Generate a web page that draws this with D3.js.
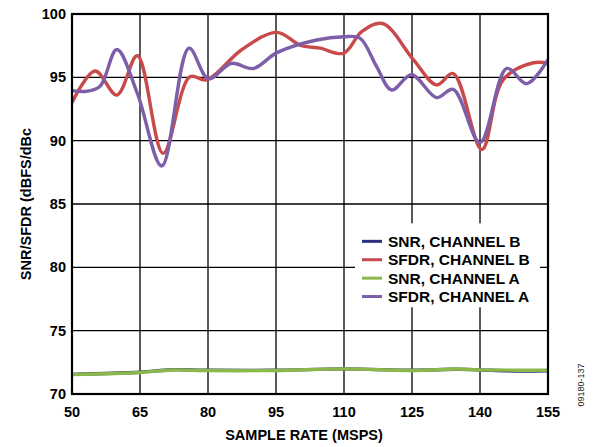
<!DOCTYPE html>
<html>
<head>
<meta charset="utf-8">
<script src="https://cdn.jsdelivr.net/npm/d3@7"></script>
<style>
  body { margin: 0; background: #fff; }
  svg { font-family: 'Liberation Sans', Arial, sans-serif; }
</style>
</head>
<body>
<div id="chart"></div>
<script>
const xTicks = [50, 65, 80, 95, 110, 125, 140, 155];
const yTicks = [70, 75, 80, 85, 90, 95, 100];

const sfdrB = [
  [50, 93.0], [55.1, 95.5], [59.9, 93.6], [64.4, 96.7], [70.1, 89.0], [76.0, 95.05],
  [79.7, 94.8], [87.5, 97.2], [95.2, 98.55], [100.3, 97.55], [104.7, 97.3], [109.9, 96.9],
  [113.9, 98.6], [118.5, 99.25], [125.3, 96.4], [130.4, 94.4], [134.1, 95.3], [140.4, 89.3],
  [145.1, 94.8], [151.8, 96.15], [155, 96.1]
];
const sfdrA = [
  [50, 93.95], [53.2, 93.9], [56.2, 94.3], [59.9, 97.2], [64.4, 93.75], [69.8, 88.0],
  [75.8, 97.3], [80.1, 94.9], [85.2, 96.1], [90.0, 95.7], [95.2, 96.95], [104.0, 97.95],
  [109.9, 98.2], [113.5, 98.1], [117.2, 95.85], [120.5, 94.0], [124.9, 95.2], [130.4, 93.4],
  [134.1, 94.05], [140.0, 89.85], [145.9, 95.7], [150.3, 94.5], [155, 96.4]
];
const snrB = [
  [50, 71.55], [65, 71.72], [72, 71.92], [80, 71.87], [95, 71.88], [110, 71.98],
  [125, 71.88], [135, 71.95], [140, 71.9], [148, 71.82], [155, 71.84]
];
const snrA = [
  [50, 71.53], [65, 71.7], [72, 71.9], [80, 71.85], [95, 71.86], [110, 71.98],
  [125, 71.85], [135, 71.97], [140, 71.9], [148, 71.88], [155, 71.88]
];

const series = [
  { name: 'SNR, CHANNEL B', color: '#2b2e7e', data: snrB },
  { name: 'SFDR, CHANNEL B', color: '#c94a4b', data: sfdrB },
  { name: 'SNR, CHANNEL A', color: '#8cb84a', data: snrA },
  { name: 'SFDR, CHANNEL A', color: '#7d5ea9', data: sfdrA }
];
const drawOrder = [0, 2, 1, 3];

const margin = { top: 14, right: 46, bottom: 53, left: 72 };
const W = 594, H = 447;
const width = W - margin.left - margin.right;
const height = H - margin.top - margin.bottom;

const svg = d3.select('#chart').append('svg').attr('width', W).attr('height', H);
const g = svg.append('g').attr('transform', `translate(${margin.left},${margin.top})`);

const x = d3.scaleLinear().domain([50, 155]).range([0, width]);
const y = d3.scaleLinear().domain([70, 100]).range([height, 0]);

// grid
g.selectAll('.vgrid').data(xTicks).enter().append('line')
  .attr('x1', d => x(d)).attr('x2', d => x(d)).attr('y1', 0).attr('y2', height)
  .style('stroke', '#000').style('stroke-width', 1.3);
g.selectAll('.hgrid').data(yTicks).enter().append('line')
  .attr('x1', 0).attr('x2', width).attr('y1', d => y(d)).attr('y2', d => y(d))
  .style('stroke', '#000').style('stroke-width', 1.3);

// legend box (white, covers grid)
const legend = g.append('g').attr('transform', `translate(${x(125) - 57},${y(80) - 44})`);
legend.append('rect').attr('x', 0).attr('y', 0).attr('width', 185).attr('height', 84).style('fill', '#fff');

const line = d3.line().x(d => x(d[0])).y(d => y(d[1])).curve(d3.curveCatmullRom.alpha(0.5));

g.append('defs').append('clipPath').attr('id', 'clip')
  .append('rect').attr('width', width).attr('height', height);

drawOrder.forEach(i => {
  g.append('path').datum(series[i].data)
    .attr('d', line)
    .attr('clip-path', 'url(#clip)')
    .style('fill', 'none')
    .style('stroke', series[i].color)
    .style('stroke-width', 3.4)
    .style('stroke-linejoin', 'round');
});

// frame
g.append('rect').attr('width', width).attr('height', height)
  .style('fill', 'none').style('stroke', '#000').style('stroke-width', 2.2);

// legend entries
series.forEach((s, i) => {
  const ly = 18 + i * 18.4;
  legend.append('line').attr('x1', 7).attr('x2', 27).attr('y1', ly).attr('y2', ly)
    .style('stroke', s.color).style('stroke-width', 3);
  legend.append('text').attr('x', 33).attr('y', ly + 5.5)
    .style('font-size', '15.5px').style('font-weight', 'bold').style('fill', '#000')
    .text(s.name);
});

// tick labels
g.selectAll('.xl').data(xTicks).enter().append('text')
  .attr('x', d => x(d)).attr('y', height + 23)
  .style('text-anchor', 'middle').style('font-size', '14.5px').style('font-weight', 'bold')
  .text(d => d);
g.selectAll('.yl').data(yTicks).enter().append('text')
  .attr('x', -6).attr('y', d => y(d) + 5)
  .style('text-anchor', 'end').style('font-size', '14.5px').style('font-weight', 'bold')
  .text(d => d);

// axis titles
g.append('text').attr('x', width / 2 - 6).attr('y', height + 46)
  .style('text-anchor', 'middle').style('font-size', '14.5px').style('font-weight', 'bold')
  .text('SAMPLE RATE (MSPS)');
g.append('text').attr('transform', 'rotate(-90)')
  .attr('x', -height / 2).attr('y', -41)
  .style('text-anchor', 'middle').style('font-size', '14.5px').style('font-weight', 'bold')
  .text('SNR/SFDR (dBFS/dBc');

svg.append('text').attr('transform', 'rotate(-90)')
  .attr('x', -385).attr('y', 584)
  .style('text-anchor', 'middle').style('font-size', '9px').style('fill', '#222')
  .text('09180-137');
</script>
</body>
</html>
